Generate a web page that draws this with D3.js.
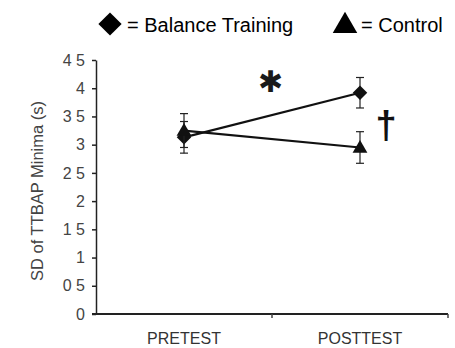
<!DOCTYPE html>
<html>
<head>
<meta charset="utf-8">
<script src="https://cdn.jsdelivr.net/npm/d3@7"></script>
<style>
  body { margin: 0; background: #fff; }
  text { font-family: "Liberation Sans", Arial, sans-serif; }
</style>
</head>
<body>
<svg id="chart" width="455" height="348"></svg>
<script>
var phases = ["PRETEST", "POSTTEST"];
var balanceMean = [3.13, 3.92];
var balanceErr = [0.28, 0.27];
var controlMean = [3.25, 2.95];
var controlErr = [0.30, 0.28];
var yTicks = [0, 0.5, 1, 1.5, 2, 2.5, 3, 3.5, 4, 4.5];
var yTickLabels = ["0", "0 5", "1", "1 5", "2", "2 5", "3", "3 5", "4", "4 5"];

var svg = d3.select("#chart");
var m = {left: 96, right: 448, top: 60, bottom: 314};

var x = d3.scaleBand().domain(phases).range([m.left, m.right]);
var y = d3.scaleLinear().domain([0, 4.5]).range([m.bottom, m.top]);

// y axis
var yAxis = d3.axisLeft(y).tickValues(yTicks)
  .tickFormat(function(d, i) { return yTickLabels[i]; })
  .tickSize(4).tickSizeOuter(0);
var gy = svg.append("g").attr("transform", "translate(" + m.left + ",0)").call(yAxis);
gy.select(".domain").attr("stroke", "#222").attr("stroke-width", 1.5);
gy.selectAll(".tick line").attr("stroke", "#222").attr("stroke-width", 1.5);
gy.selectAll("text").attr("font-size", 16).attr("fill", "#444").attr("dx", "-4");

// x axis
var xAxis = d3.axisBottom(x).tickSize(0).tickSizeOuter(0);
var gx = svg.append("g").attr("transform", "translate(0," + m.bottom + ")").call(xAxis);
gx.select(".domain").attr("d", "M" + (m.left - 4) + ",0H" + m.right).attr("stroke", "#222").attr("stroke-width", 2);
gx.selectAll("text").attr("font-size", 16).attr("fill", "#333").attr("dy", "1.7em");
// category boundary ticks
gx.selectAll(".bound").data(phases).enter().append("line")
  .attr("x1", function(d) { return x(d) + x.bandwidth(); })
  .attr("x2", function(d) { return x(d) + x.bandwidth(); })
  .attr("y1", 0).attr("y2", 4).attr("stroke", "#444").attr("stroke-width", 1.5);

svg.append("text")
  .attr("transform", "translate(43," + ((m.top + m.bottom) / 2 + 4) + ") rotate(-90)")
  .attr("text-anchor", "middle").attr("font-size", 16.5).attr("fill", "#444")
  .text("SD of TTBAP Minima (s)");

function cx(d) { return x(d) + x.bandwidth() / 2; }

var series = [
  {name: "balance", mean: balanceMean, err: balanceErr},
  {name: "control", mean: controlMean, err: controlErr}
];

var line = d3.line().x(function(d) { return cx(d.p); }).y(function(d) { return y(d.v); });

series.forEach(function(s) {
  var pts = phases.map(function(p, i) { return {p: p, v: s.mean[i], e: s.err[i]}; });
  svg.append("path").datum(pts).attr("d", line)
    .attr("fill", "none").attr("stroke", "#111").attr("stroke-width", 2.2);
  var eb = svg.append("g").selectAll("g").data(pts).enter().append("g");
  eb.append("line").attr("x1", function(d) { return cx(d.p); }).attr("x2", function(d) { return cx(d.p); })
    .attr("y1", function(d) { return y(d.v + d.e); }).attr("y2", function(d) { return y(d.v - d.e); })
    .attr("stroke", "#222").attr("stroke-width", 1.2);
  [1, -1].forEach(function(sg) {
    eb.append("line").attr("x1", function(d) { return cx(d.p) - 4; }).attr("x2", function(d) { return cx(d.p) + 4; })
      .attr("y1", function(d) { return y(d.v + sg * d.e); }).attr("y2", function(d) { return y(d.v + sg * d.e); })
      .attr("stroke", "#222").attr("stroke-width", 1.2);
  });
  svg.append("g").selectAll("path").data(pts).enter().append("path")
    .attr("d", s.name === "balance"
      ? d3.symbol().type(d3.symbolSquare).size(105)
      : d3.symbol().type(d3.symbolTriangle).size(95))
    .attr("transform", function(d) {
      return s.name === "balance"
        ? "translate(" + cx(d.p) + "," + y(d.v) + ") rotate(45)"
        : "translate(" + cx(d.p) + "," + (y(d.v) + 1) + ")";
    })
    .attr("fill", "#111");
});

// significance marks
svg.append("text").attr("x", 270).attr("y", 92).attr("text-anchor", "middle")
  .attr("font-family", "DejaVu Sans").attr("font-size", 30).attr("fill", "#1a1a1a").text("\u2731");
svg.append("text").attr("x", 386).attr("y", 138).attr("text-anchor", "middle")
  .attr("font-family", "DejaVu Serif").attr("font-size", 38).attr("font-weight", "bold")
  .attr("fill", "#111").text("\u2020");

// legend
var legend = svg.append("g");
legend.append("path").attr("d", d3.symbol().type(d3.symbolSquare).size(270))
  .attr("transform", "translate(110,24) rotate(45)").attr("fill", "#000");
legend.append("text").attr("x", 127).attr("y", 32).attr("font-size", 20).text("= Balance Training");
legend.append("path").attr("d", d3.symbol().type(d3.symbolTriangle).size(260))
  .attr("transform", "translate(345,26)").attr("fill", "#000");
legend.append("text").attr("x", 361).attr("y", 32).attr("font-size", 20).text("= Control");
</script>
</body>
</html>
